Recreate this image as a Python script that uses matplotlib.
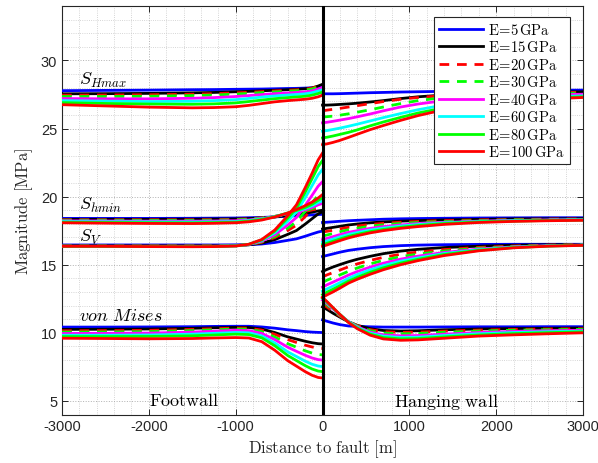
import numpy as np
import matplotlib
matplotlib.use('Agg')
import matplotlib.pyplot as plt
from matplotlib.ticker import MultipleLocator

plt.rcParams['mathtext.fontset'] = 'cm'
plt.rcParams['font.family'] = ['Liberation Sans', 'DejaVu Sans']
plt.rcParams['axes.unicode_minus'] = False

## sample positions [m]
x_foot = [-3000, -2500, -2000, -1500, -1250, -1000, -850, -700, -550, -400, -300, -200, -120, -50, 0]
x_hang = [0, 50, 120, 200, 300, 400, 550, 700, 900, 1100, 1400, 1800, 2200, 2600, 3000]

E_labels = ['5', '15', '20', '30', '40', '60', '80', '100']
colors = ['#0000ff', '#000000', '#ff0000', '#00ff00', '#ff00ff', '#00ffff', '#00ff00', '#ff0000']
dashed = [False, False, True, True, False, False, False, False]

## SHmax [MPa], one row per E
shmax_foot = [
    [27.78, 27.8, 27.82, 27.85, 27.86, 27.88, 27.89, 27.9, 27.92, 27.94, 27.95, 27.97, 27.99, 28.0, 28.02],
    [27.55, 27.56, 27.58, 27.62, 27.65, 27.7, 27.73, 27.77, 27.81, 27.85, 27.88, 27.92, 27.98, 28.12, 28.25],
    [27.45, 27.46, 27.48, 27.52, 27.56, 27.62, 27.66, 27.71, 27.76, 27.81, 27.84, 27.89, 27.96, 28.12, 28.28],
    [27.35, 27.35, 27.37, 27.42, 27.46, 27.53, 27.58, 27.64, 27.69, 27.74, 27.77, 27.82, 27.9, 28.05, 28.2],
    [27.2, 27.18, 27.18, 27.22, 27.27, 27.35, 27.42, 27.49, 27.56, 27.61, 27.65, 27.69, 27.77, 27.9, 28.02],
    [27.05, 27.01, 26.98, 27.0, 27.05, 27.12, 27.21, 27.31, 27.39, 27.46, 27.5, 27.55, 27.63, 27.75, 27.85],
    [26.9, 26.84, 26.8, 26.78, 26.81, 26.88, 26.98, 27.09, 27.19, 27.27, 27.32, 27.37, 27.45, 27.57, 27.68],
    [26.75, 26.66, 26.57, 26.52, 26.54, 26.6, 26.7, 26.83, 26.96, 27.05, 27.1, 27.15, 27.22, 27.33, 27.45],
]
shmax_hang = [
    [27.55, 27.55, 27.55, 27.56, 27.58, 27.6, 27.63, 27.65, 27.68, 27.7, 27.73, 27.76, 27.79, 27.81, 27.82],
    [26.72, 26.72, 26.74, 26.77, 26.81, 26.86, 26.95, 27.05, 27.2, 27.33, 27.46, 27.57, 27.63, 27.67, 27.7],
    [26.3, 26.35, 26.41, 26.48, 26.58, 26.68, 26.83, 26.98, 27.15, 27.28, 27.42, 27.54, 27.6, 27.64, 27.66],
    [25.84, 25.87, 25.91, 25.98, 26.08, 26.2, 26.38, 26.58, 26.83, 27.05, 27.28, 27.45, 27.53, 27.57, 27.6],
    [25.42, 25.46, 25.53, 25.62, 25.73, 25.86, 26.07, 26.3, 26.58, 26.8, 27.05, 27.27, 27.4, 27.47, 27.52],
    [24.8, 24.85, 24.93, 25.03, 25.17, 25.32, 25.56, 25.8, 26.1, 26.38, 26.73, 27.02, 27.2, 27.32, 27.4],
    [24.31, 24.36, 24.45, 24.57, 24.72, 24.9, 25.2, 25.48, 25.82, 26.14, 26.52, 26.88, 27.1, 27.23, 27.33],
    [23.82, 23.87, 23.98, 24.13, 24.35, 24.58, 24.92, 25.22, 25.6, 25.95, 26.38, 26.78, 27.02, 27.17, 27.28],
]

## Shmin
shmin_foot = [
    [18.4, 18.4, 18.4, 18.41, 18.42, 18.43, 18.45, 18.47, 18.51, 18.56, 18.6, 18.63, 18.66, 18.68, 18.7],
    [18.33, 18.33, 18.33, 18.34, 18.35, 18.36, 18.39, 18.43, 18.51, 18.62, 18.7, 18.78, 18.86, 18.95, 19.0],
    [18.3, 18.3, 18.3, 18.3, 18.31, 18.33, 18.37, 18.44, 18.55, 18.7, 18.8, 18.91, 19.02, 19.13, 19.2],
    [18.27, 18.27, 18.26, 18.26, 18.27, 18.29, 18.34, 18.42, 18.55, 18.73, 18.85, 18.98, 19.12, 19.27, 19.35],
    [18.22, 18.21, 18.2, 18.2, 18.21, 18.23, 18.29, 18.39, 18.54, 18.75, 18.88, 19.04, 19.2, 19.4, 19.5],
    [18.17, 18.15, 18.14, 18.13, 18.14, 18.17, 18.24, 18.36, 18.53, 18.78, 18.93, 19.12, 19.32, 19.57, 19.7],
    [18.12, 18.1, 18.08, 18.07, 18.09, 18.12, 18.2, 18.33, 18.52, 18.8, 18.98, 19.2, 19.44, 19.73, 19.9],
    [18.08, 18.05, 18.03, 18.02, 18.04, 18.08, 18.15, 18.28, 18.5, 18.8, 19.05, 19.33, 19.6, 19.9, 20.15],
]
shmin_hang = [
    [18.1, 18.12, 18.15, 18.19, 18.23, 18.26, 18.3, 18.34, 18.37, 18.39, 18.41, 18.43, 18.44, 18.45, 18.45],
    [17.62, 17.67, 17.74, 17.82, 17.92, 17.99, 18.08, 18.14, 18.2, 18.24, 18.29, 18.33, 18.36, 18.37, 18.38],
    [17.4, 17.45, 17.53, 17.63, 17.75, 17.84, 17.95, 18.04, 18.12, 18.18, 18.24, 18.29, 18.32, 18.35, 18.36],
    [17.1, 17.18, 17.29, 17.42, 17.57, 17.68, 17.82, 17.93, 18.03, 18.1, 18.17, 18.24, 18.29, 18.31, 18.33],
    [16.85, 16.93, 17.06, 17.21, 17.38, 17.5, 17.67, 17.8, 17.92, 18.02, 18.11, 18.2, 18.25, 18.29, 18.31],
    [16.65, 16.74, 16.88, 17.04, 17.22, 17.36, 17.55, 17.69, 17.84, 17.95, 18.07, 18.17, 18.23, 18.27, 18.3],
    [16.48, 16.57, 16.72, 16.89, 17.08, 17.23, 17.43, 17.59, 17.75, 17.88, 18.02, 18.14, 18.2, 18.25, 18.28],
    [16.35, 16.45, 16.6, 16.77, 16.97, 17.13, 17.34, 17.5, 17.67, 17.8, 17.96, 18.1, 18.18, 18.23, 18.26],
]

## SV
sv_foot = [
    [16.45, 16.45, 16.45, 16.45, 16.45, 16.46, 16.47, 16.52, 16.63, 16.79, 16.9, 17.09, 17.26, 17.4, 17.47],
    [16.4, 16.4, 16.4, 16.4, 16.4, 16.41, 16.46, 16.59, 16.84, 17.23, 17.51, 17.98, 18.38, 18.73, 18.9],
    [16.38, 16.38, 16.38, 16.38, 16.38, 16.4, 16.47, 16.64, 16.99, 17.51, 17.9, 18.53, 19.08, 19.56, 19.8],
    [16.37, 16.37, 16.37, 16.37, 16.37, 16.39, 16.47, 16.68, 17.08, 17.7, 18.16, 18.91, 19.55, 20.12, 20.4],
    [16.36, 16.36, 16.36, 16.36, 16.36, 16.39, 16.48, 16.72, 17.2, 17.92, 18.47, 19.35, 20.1, 20.77, 21.1],
    [16.35, 16.35, 16.35, 16.35, 16.35, 16.38, 16.49, 16.78, 17.35, 18.21, 18.86, 19.91, 20.81, 21.6, 22.0],
    [16.35, 16.35, 16.34, 16.33, 16.34, 16.38, 16.5, 16.82, 17.46, 18.42, 19.15, 20.32, 21.32, 22.21, 22.65],
    [16.35, 16.35, 16.33, 16.32, 16.33, 16.37, 16.5, 16.85, 17.55, 18.6, 19.4, 20.65, 21.72, 22.7, 23.2],
]
sv_hang = [
    [15.6, 15.68, 15.79, 15.92, 16.05, 16.14, 16.25, 16.33, 16.4, 16.44, 16.47, 16.49, 16.5, 16.5, 16.5],
    [14.5, 14.65, 14.83, 15.01, 15.22, 15.4, 15.62, 15.81, 16.0, 16.13, 16.26, 16.36, 16.43, 16.46, 16.48],
    [14.1, 14.25, 14.42, 14.61, 14.85, 15.06, 15.32, 15.54, 15.77, 15.93, 16.11, 16.27, 16.37, 16.44, 16.47],
    [13.7, 13.86, 14.04, 14.25, 14.52, 14.76, 15.06, 15.32, 15.59, 15.78, 16.0, 16.21, 16.34, 16.42, 16.46],
    [13.35, 13.52, 13.72, 13.95, 14.24, 14.5, 14.83, 15.11, 15.41, 15.63, 15.9, 16.15, 16.31, 16.4, 16.45],
    [13.05, 13.22, 13.43, 13.68, 14.0, 14.28, 14.63, 14.93, 15.26, 15.5, 15.82, 16.1, 16.28, 16.38, 16.44],
    [12.8, 12.98, 13.2, 13.46, 13.8, 14.08, 14.45, 14.77, 15.12, 15.4, 15.75, 16.06, 16.26, 16.37, 16.43],
    [12.6, 12.78, 13.0, 13.28, 13.65, 13.93, 14.3, 14.63, 15.0, 15.3, 15.67, 16.02, 16.24, 16.36, 16.42],
]

## von Mises
vm_foot = [
    [10.42, 10.42, 10.43, 10.45, 10.47, 10.48, 10.48, 10.43, 10.34, 10.22, 10.16, 10.09, 10.05, 10.03, 10.02],
    [10.25, 10.26, 10.28, 10.33, 10.37, 10.4, 10.39, 10.28, 10.02, 9.7, 9.54, 9.38, 9.27, 9.2, 9.18],
    [10.15, 10.16, 10.18, 10.25, 10.3, 10.35, 10.34, 10.2, 9.89, 9.5, 9.29, 9.09, 8.96, 8.87, 8.85],
    [10.05, 10.06, 10.09, 10.16, 10.22, 10.28, 10.26, 10.09, 9.69, 9.2, 8.94, 8.68, 8.51, 8.41, 8.38],
    [9.95, 9.96, 9.98, 10.05, 10.12, 10.18, 10.16, 9.96, 9.5, 8.94, 8.64, 8.35, 8.15, 8.03, 8.0],
    [9.82, 9.82, 9.84, 9.9, 9.96, 10.02, 10.0, 9.77, 9.25, 8.6, 8.26, 7.92, 7.69, 7.56, 7.52],
    [9.72, 9.72, 9.73, 9.78, 9.84, 9.9, 9.87, 9.63, 9.05, 8.33, 7.96, 7.59, 7.34, 7.19, 7.15],
    [9.6, 9.58, 9.56, 9.58, 9.62, 9.65, 9.62, 9.35, 8.72, 7.95, 7.55, 7.15, 6.88, 6.72, 6.68],
]
vm_hang = [
    [10.95, 10.85, 10.72, 10.6, 10.5, 10.47, 10.44, 10.42, 10.42, 10.42, 10.43, 10.44, 10.44, 10.45, 10.45],
    [11.9, 11.72, 11.44, 11.15, 10.8, 10.55, 10.3, 10.17, 10.13, 10.15, 10.22, 10.28, 10.31, 10.33, 10.35],
    [12.1, 11.9, 11.57, 11.22, 10.82, 10.53, 10.23, 10.08, 10.03, 10.05, 10.12, 10.2, 10.25, 10.28, 10.3],
    [12.3, 12.05, 11.68, 11.28, 10.83, 10.5, 10.15, 9.98, 9.93, 9.95, 10.04, 10.13, 10.19, 10.23, 10.25],
    [12.4, 12.15, 11.75, 11.32, 10.82, 10.45, 10.05, 9.85, 9.78, 9.8, 9.9, 10.02, 10.1, 10.15, 10.18],
    [12.5, 12.23, 11.8, 11.34, 10.8, 10.4, 9.97, 9.75, 9.66, 9.68, 9.8, 9.93, 10.02, 10.08, 10.12],
    [12.55, 12.27, 11.83, 11.35, 10.77, 10.35, 9.9, 9.65, 9.56, 9.58, 9.7, 9.84, 9.94, 10.01, 10.07],
    [12.6, 12.3, 11.85, 11.35, 10.75, 10.3, 9.82, 9.55, 9.45, 9.48, 9.6, 9.76, 9.85, 9.93, 10.0],
]

fig = plt.figure(figsize=(5.98, 4.64), dpi=100)
ax = fig.add_axes([0.1037, 0.1045, 0.8713, 0.8805])

for i in range(len(E_labels)):
    ls = (0, (3.5, 2.8)) if dashed[i] else '-'
    for foot, hang in [(shmax_foot, shmax_hang), (shmin_foot, shmin_hang),
                       (sv_foot, sv_hang), (vm_foot, vm_hang)]:
        ax.plot(x_foot, foot[i], color=colors[i], ls=ls, lw=2.0, zorder=3 + i,
                solid_joinstyle='round')
        line, = ax.plot(x_hang, hang[i], color=colors[i], ls=ls, lw=2.0, zorder=3 + i,
                        solid_joinstyle='round')
    line.set_label(r'$\mathrm{E\!=\!%s\,GPa}$' % E_labels[i])

# fault
ax.axvline(0, color='k', lw=2.2, zorder=20)

ax.set_xlim(-3000, 3000)
ax.set_ylim(4, 34)
ax.xaxis.set_major_locator(MultipleLocator(1000))
ax.xaxis.set_minor_locator(MultipleLocator(200))
ax.yaxis.set_major_locator(MultipleLocator(5))
ax.yaxis.set_minor_locator(MultipleLocator(1))
ax.grid(which='major', color='#b0b0b0', ls=':', lw=0.7)
ax.grid(which='minor', color='#c8c8c8', ls=':', lw=0.6)
ax.tick_params(which='both', direction='in', top=True, right=True,
               colors='#262626', labelsize=10.5)
ax.tick_params(which='major', length=4.5, width=0.7)
ax.tick_params(which='minor', length=0)
for s in ax.spines.values():
    s.set_color('#262626')
    s.set_linewidth(0.8)

ax.set_xlabel(r'$\mathrm{Distance\ to\ fault\ [m]}$', fontsize=12, color='#262626', labelpad=3)
ax.set_ylabel(r'$\mathrm{Magnitude\ [MPa]}$', fontsize=12, color='#262626', labelpad=4)

ax.text(-2800, 28.6, r'$S_{Hmax}$', fontsize=13, va='center', zorder=30)
ax.text(-2800, 19.4, r'$S_{hmin}$', fontsize=13, va='center', zorder=30)
ax.text(-2800, 17.1, r'$S_V$', fontsize=13, va='center', zorder=30)
ax.text(-2800, 11.25, r'$von\ Mises$', fontsize=13, va='center', zorder=30)
ax.text(-1590, 5.0, r'$\mathrm{Footwall}$', fontsize=13, ha='center', va='center', zorder=30)
ax.text(1420, 5.0, r'$\mathrm{Hanging\ wall}$', fontsize=13, ha='center', va='center', zorder=30)

leg = ax.legend(loc='upper right', bbox_to_anchor=(0.974, 0.972), borderaxespad=0,
                fontsize=10.5, handlelength=3.0, labelspacing=0.17, handletextpad=0.4,
                borderpad=0.3, fancybox=False, framealpha=1, edgecolor='#262626')
leg.get_frame().set_linewidth(0.8)
leg.set_zorder(40)

fig.savefig('out.png', dpi=100)
